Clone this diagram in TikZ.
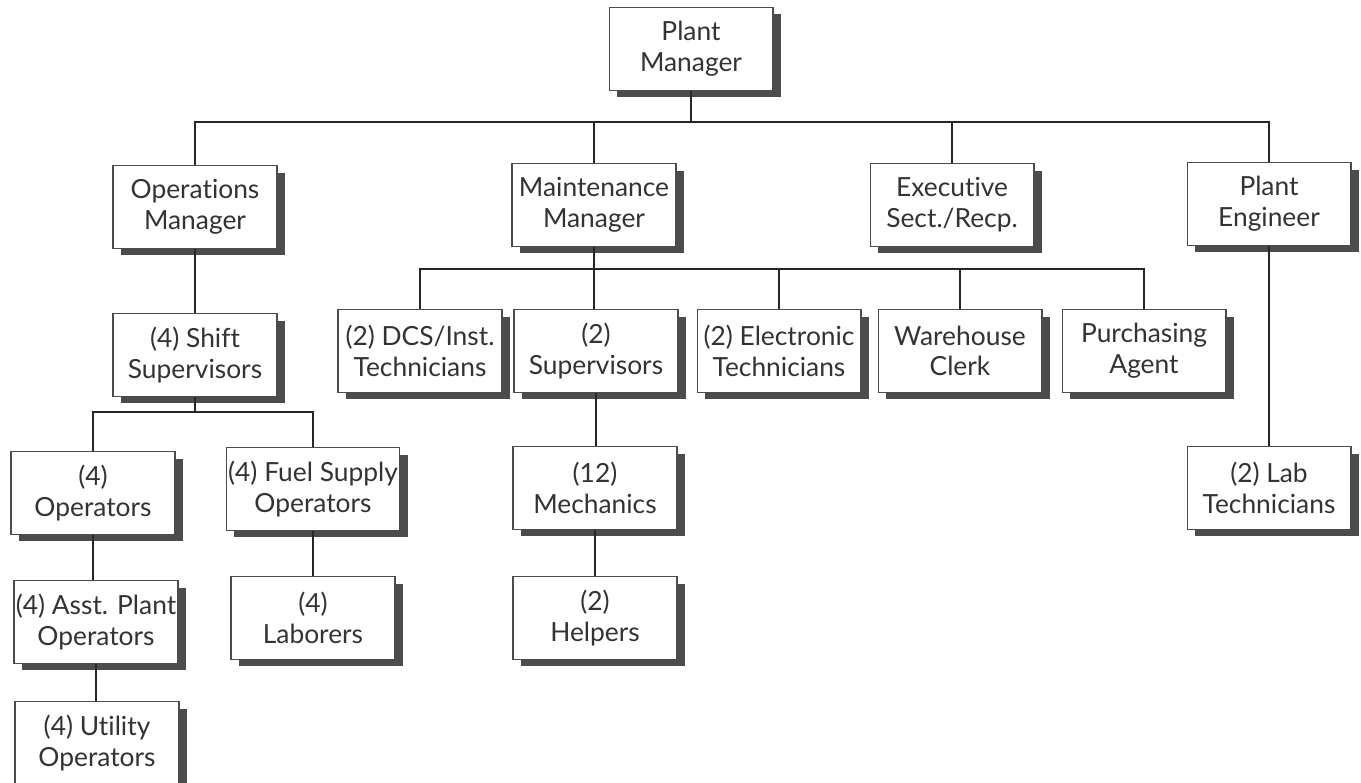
\documentclass[tikz,border=0pt]{standalone}
\usepackage{fontspec}
\setmainfont{Lato}[Ligatures=NoCommon]
\usetikzlibrary{shadows}

\begin{document}
\begin{tikzpicture}[x=0.02cm,y=-0.02cm,
  post/.style={draw=black!70, line width=0.6pt, fill=white, align=center,
    minimum width=3.28cm, minimum height=1.66cm, inner xsep=1pt,
    text=black!80, font=\fontsize{15}{17.5}\selectfont,
    general shadow={fill=black!70, shadow xshift=0.16cm, shadow yshift=-0.14cm}},
  link/.style={draw=black!85, line width=0.8pt}]

\useasboundingbox (0,0) rectangle (1361,783);

% top
\node[post] (pm) at (691,49) {Plant\\Manager};

% managers
\node[post] (ops)   at (195,207)  {Operations\\Manager};
\node[post] (maint) at (594,205)  {Maintenance\\Manager};
\node[post] (exec)  at (952,205)  {Executive\\Sect./Recp.};
\node[post] (eng)   at (1269,204) {Plant\\Engineer};

% maintenance staff
\node[post] (dcs)   at (420,351)  {(2) DCS/Inst.\\Technicians};
\node[post] (sup)   at (596,351)  {(2)\\Supervisors};
\node[post] (elec)  at (779,351)  {(2) Electronic\\Technicians};
\node[post] (ware)  at (960,351)  {Warehouse\\Clerk};
\node[post] (purch) at (1144,351) {Purchasing\\Agent};
\node[post] (mech)  at (595,488)  {(12)\\Mechanics};
\node[post] (help)  at (595,618)  {(2)\\Helpers};

% operations staff
\node[post] (shift) at (195,355)  {(4) Shift\\Supervisors};
\node[post] (oper)  at (93,493)   {(4)\\Operators};
\node[post] (fuel)  at (313,489)  {(4) Fuel Supply\\Operators};
\node[post] (asst)  at (96,622)   {(4) Asst. Plant\\Operators};
\node[post] (lab)   at (313,618)  {(4)\\Laborers};
\node[post] (util)  at (97,743)   {(4) Utility\\Operators};

% engineering
\node[post] (labt)  at (1269,488) {(2) Lab\\Technicians};

% buses
\coordinate (bus1) at (0,122);
\coordinate (bus2) at (0,269);
\coordinate (bus3) at (0,412);

\draw[link] (pm) -- (pm |- bus1);
\draw[link] (ops) -- (ops |- bus1) -| (eng);
\draw[link] (maint) -- (maint |- bus1);
\draw[link] (exec) -- (exec |- bus1);

\draw[link] (dcs) -- (dcs |- bus2) -| (purch);
\draw[link] (maint) -- (maint |- sup.north);
\draw[link] (elec) -- (elec |- bus2);
\draw[link] (ware) -- (ware |- bus2);
\draw[link] (sup) -- (sup |- mech.north);
\draw[link] (mech) -- (help);

\draw[link] (ops) -- (shift);
\draw[link] (shift) -- (shift |- bus3);
\draw[link] (oper) -- (oper |- bus3) -| (fuel);
\draw[link] (oper) -- (oper |- asst.north);
\draw[link] (asst) -- (asst |- util.north);
\draw[link] (fuel) -- (lab);

\draw[link] (eng) -- (labt);
\end{tikzpicture}
\end{document}
